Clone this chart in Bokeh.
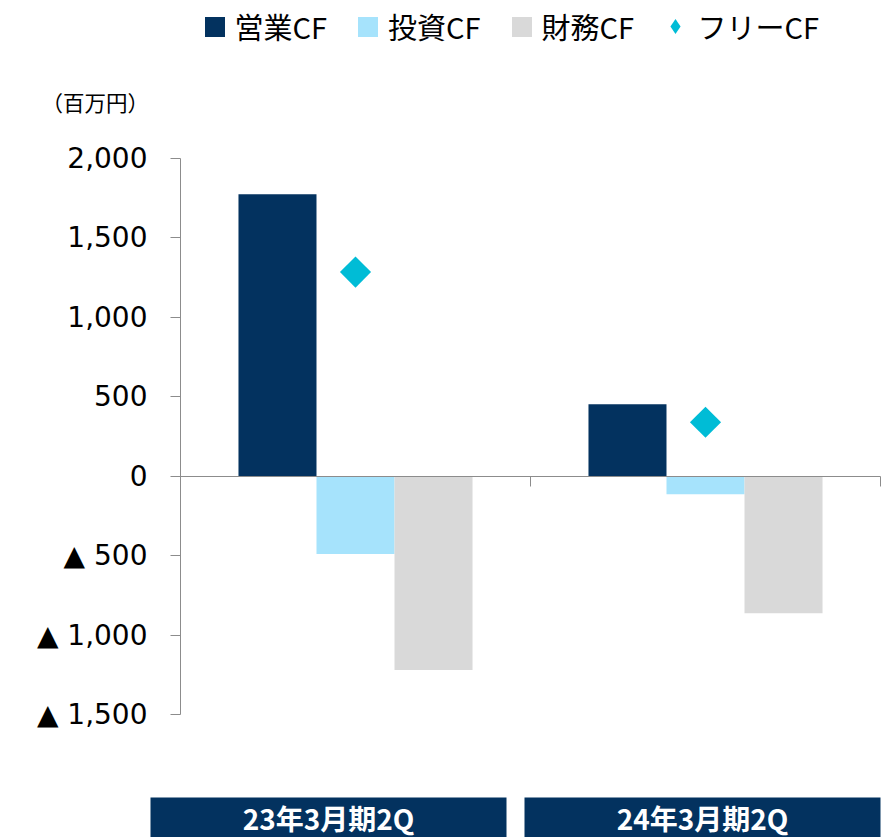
import math
from bokeh.plotting import figure
from bokeh.models import (ColumnDataSource, Range1d, FixedTicker, Legend, LegendItem, Label)
from bokeh.transform import dodge
from bokeh.core.properties import value
from bokeh.embed import file_html
from bokeh.resources import INLINE

# ---- data ----
categories = ["23年3月期2Q", "24年3月期2Q"]
operating_cf = [1775, 453]
investing_cf = [-490, -113]
financing_cf = [-1220, -862]
free_cf = [1285, 340]
y_ticks = [-1500, -1000, -500, 0, 500, 1000, 1500, 2000]
series_names = ["営業CF", "投資CF", "財務CF", "フリーCF"]
unit_label = "（百万円）"

# ---- style / layout ----
C_OP = "#03325F"
C_INV = "#A6E3FC"
C_FIN = "#D9D9D9"
C_FREE = "#00BCD6"
AXIS_C = "#8C8C8C"
BAR_W = 0.2229
W, H = 892, 837
PX_X = 350.0            # px per category
X0 = 180.0              # px of first category boundary
PX_Y = 556.0 / 3500.0   # px per value unit
Y_TOP_PX = 158.0        # px of 2000
BAND_H = 40.0           # height of category band at bottom
BAND_SLOT = 374.0       # px per category band slot
BAND_LEFT = 141.0

x_lo = -X0 / PX_X
x_hi = (W - X0) / PX_X
y_hi = 2000 + Y_TOP_PX / PX_Y
y_lo = 2000 - (H - Y_TOP_PX) / PX_Y

src = ColumnDataSource(dict(
    xc=[i + 0.5 for i in range(len(categories))],
    op=operating_cf, inv=investing_cf, fin=financing_cf, free=free_cf,
))

p = figure(width=W, height=H, output_backend="svg", toolbar_location=None,
           x_range=Range1d(x_lo, x_hi), y_range=Range1d(y_lo, y_hi),
           min_border_left=0, min_border_right=0, min_border_top=0, min_border_bottom=0)
p.outline_line_color = None
p.grid.visible = False
p.background_fill_color = "white"

r_op = p.vbar(x=dodge("xc", -BAR_W, range=p.x_range), top="op", bottom=0, width=BAR_W,
              source=src, fill_color=C_OP, line_color=None)
r_inv = p.vbar(x="xc", top="inv", bottom=0, width=BAR_W,
               source=src, fill_color=C_INV, line_color=None)
r_fin = p.vbar(x=dodge("xc", BAR_W, range=p.x_range), top="fin", bottom=0, width=BAR_W,
               source=src, fill_color=C_FIN, line_color=None)
r_free = p.scatter(x="xc", y="free", source=src, marker="square", size=22, angle=math.pi / 4,
                   fill_color=C_FREE, line_color=None)
# legend-only stand-in for the diamond symbol (not drawn in the plot)
r_free_key = p.scatter(x=[math.nan], y=[math.nan], marker="diamond",
                       fill_color=C_FREE, line_color=None)

# y axis placed at the first category boundary
ya = p.yaxis[0]
ya.fixed_location = 0
ya.ticker = FixedTicker(ticks=y_ticks)
ya.bounds = (min(y_ticks), max(y_ticks))
ya.major_label_overrides = {v: (f"▲ {abs(v):,}" if v < 0 else f"{v:,}") for v in y_ticks}
ya.major_label_text_font = "DejaVu Sans"
ya.major_label_text_font_size = "28px"
ya.major_label_text_color = "black"
ya.major_label_standoff = 23
ya.major_tick_out = 10
ya.major_tick_in = 0
ya.minor_tick_line_color = None
ya.axis_line_color = AXIS_C
ya.major_tick_line_color = AXIS_C

# x axis at zero
xa = p.xaxis[0]
xa.fixed_location = 0
xa.bounds = (0, len(categories))
xa.ticker = FixedTicker(ticks=list(range(len(categories) + 1)))
xa.major_label_overrides = {i: "" for i in range(len(categories) + 1)}
xa.major_tick_out = 10
xa.major_tick_in = 0
xa.minor_tick_line_color = None
xa.axis_line_color = AXIS_C
xa.major_tick_line_color = AXIS_C

leg_common = dict(orientation="horizontal", padding=0, margin=0,
                  label_text_font="Noto Sans CJK JP", label_text_font_size="29px",
                  label_text_color="black", border_line_color=None, background_fill_alpha=0)
legend1 = Legend(items=[
    LegendItem(label=series_names[0], renderers=[r_op]),
    LegendItem(label=series_names[1], renderers=[r_inv]),
    LegendItem(label=series_names[2], renderers=[r_fin]),
], location=(201.5, H - 47), glyph_width=25, glyph_height=25, label_standoff=8, spacing=28,
   **leg_common)
legend2 = Legend(items=[
    LegendItem(label=series_names[3], renderers=[r_free_key]),
], location=(655.5, H - 47), glyph_width=38, glyph_height=38, label_standoff=4, spacing=0,
   **leg_common)
p.add_layout(legend1)
p.add_layout(legend2)

p.add_layout(Label(x=41, y=H - 101, x_units="screen", y_units="screen", text=unit_label,
                   text_font="Noto Sans CJK JP", text_font_size="21.5px", text_color="black",
                   text_baseline="middle", text_align="left"))

# category band at the bottom
p.extra_x_ranges["band"] = Range1d(-BAND_LEFT / BAND_SLOT, (W - BAND_LEFT) / BAND_SLOT)
p.extra_y_ranges["band"] = Range1d(0, H / BAND_H)
src2 = ColumnDataSource(dict(cat=categories, xc=[i + 0.5 for i in range(len(categories))]))
p.vbar(x="xc", top=1, bottom=-1, width=356 / BAND_SLOT, source=src2,
       x_range_name="band", y_range_name="band", fill_color=C_OP, line_color=None)
p.text(x="xc", y=0.5, text="cat", source=src2, x_range_name="band", y_range_name="band",
       text_align="center", text_baseline="middle",
       text_font=value("Noto Sans CJK JP"), text_font_style="bold", text_font_size="28px",
       text_color="white")

open("out.html", "w").write(file_html(p, INLINE))
